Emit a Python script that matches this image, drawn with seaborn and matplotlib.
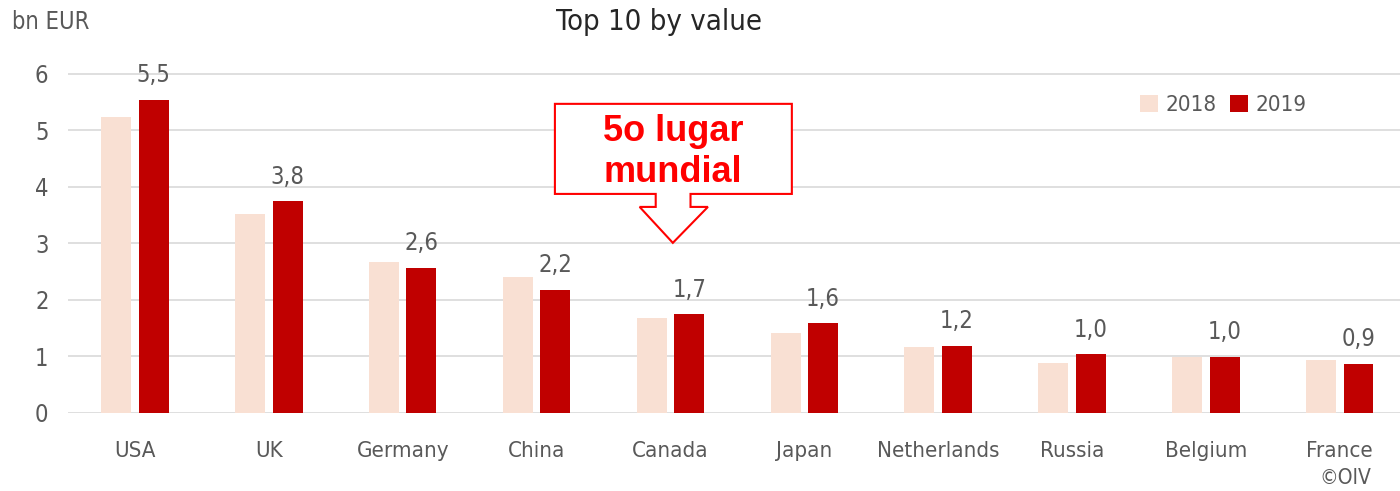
import matplotlib
matplotlib.use("Agg")
import matplotlib.pyplot as plt
import seaborn as sns
import pandas as pd
from matplotlib.patches import Polygon

# --- data ---
COUNTRIES = ['USA', 'UK', 'Germany', 'China', 'Canada', 'Japan',
             'Netherlands', 'Russia', 'Belgium', 'France']
VALUES_2018 = [5.24, 3.52, 2.67, 2.41, 1.68, 1.42, 1.17, 0.88, 0.99, 0.94]
VALUES_2019 = [5.54, 3.75, 2.57, 2.18, 1.75, 1.59, 1.19, 1.04, 0.99, 0.87]
LABELS_2019 = ['5,5', '3,8', '2,6', '2,2', '1,7', '1,6', '1,2', '1,0', '1,0', '0,9']
YEARS = ['2018', '2019']

C_2018 = '#F9E0D3'
C_2019 = '#C00000'
GREY = '#595959'

df = pd.DataFrame({
    'country': COUNTRIES * 2,
    'year': [YEARS[0]] * len(COUNTRIES) + [YEARS[1]] * len(COUNTRIES),
    'value': VALUES_2018 + VALUES_2019,
})

sns.set_style('white')
plt.rcParams['font.family'] = ['DejaVu Sans']
plt.rcParams['font.stretch'] = 'condensed'

fig = plt.figure(figsize=(14, 4.91), dpi=100)
ax = fig.add_axes([0.0486, 0.159, 0.9514, 0.725])

sns.barplot(data=df, x='country', y='value', hue='year', order=COUNTRIES,
            hue_order=YEARS, palette=[C_2018, C_2019], width=0.56, gap=0.2,
            saturation=1, linewidth=0, ax=ax, legend=True)

# value labels over the 2019 bars
for bar, lab in zip(ax.containers[1], LABELS_2019):
    ax.annotate(lab, (bar.get_x() + bar.get_width() / 2, bar.get_height()),
                xytext=(0, 9), textcoords='offset points', ha='center',
                va='bottom', fontsize=17, color=GREY)

ax.set_ylim(0, 6.3)
ax.set_xlim(-0.5, 9.45)
ax.set_yticks(range(7))
ax.yaxis.grid(True, color='#D9D9D9', linewidth=1.2)
ax.set_axisbelow(True)
for s in ax.spines.values():
    s.set_visible(False)
ax.tick_params(axis='y', length=0, labelsize=17, labelcolor=GREY, pad=14)
ax.tick_params(axis='x', length=0, labelsize=16, labelcolor=GREY, pad=20)
ax.set_xlabel('')
ax.set_ylabel('')

leg = ax.legend(loc='upper right', bbox_to_anchor=(0.945, 0.95), ncol=2,
                frameon=False, fontsize=16, handlelength=0.8, handleheight=0.8,
                columnspacing=0.6, handletextpad=0.35)
for t in leg.get_texts():
    t.set_color(GREY)

fig.text(0.0086, 0.955, 'bn EUR', fontsize=17, color=GREY, va='center')
fig.text(0.471, 0.955, 'Top 10 by value', fontsize=21, color='#262626',
         va='center', ha='center')
fig.text(0.961, 0.027, '©OIV', fontsize=15, color=GREY, va='center', ha='center')

# callout over Canada
ci = COUNTRIES.index('Canada')
callout = [(ci - 0.863, 5.47), (ci + 0.907, 5.47), (ci + 0.907, 3.876),
           (ci + 0.15, 3.876), (ci + 0.15, 3.646), (ci + 0.28, 3.646),
           (ci + 0.018, 3.01), (ci - 0.23, 3.646), (ci - 0.11, 3.646),
           (ci - 0.11, 3.876), (ci - 0.863, 3.876)]
ax.add_patch(Polygon(callout, closed=True, facecolor='white',
                     edgecolor='#FF0000', linewidth=1.5, zorder=5))
ax.text(ci + 0.02, 4.62, '5o lugar\nmundial', ha='center', va='center',
        fontsize=26, fontweight='bold', color='#FF0000', stretch='normal',
        family=['Liberation Sans', 'DejaVu Sans'], linespacing=1.25, zorder=6)

fig.savefig('out.png', dpi=100)
